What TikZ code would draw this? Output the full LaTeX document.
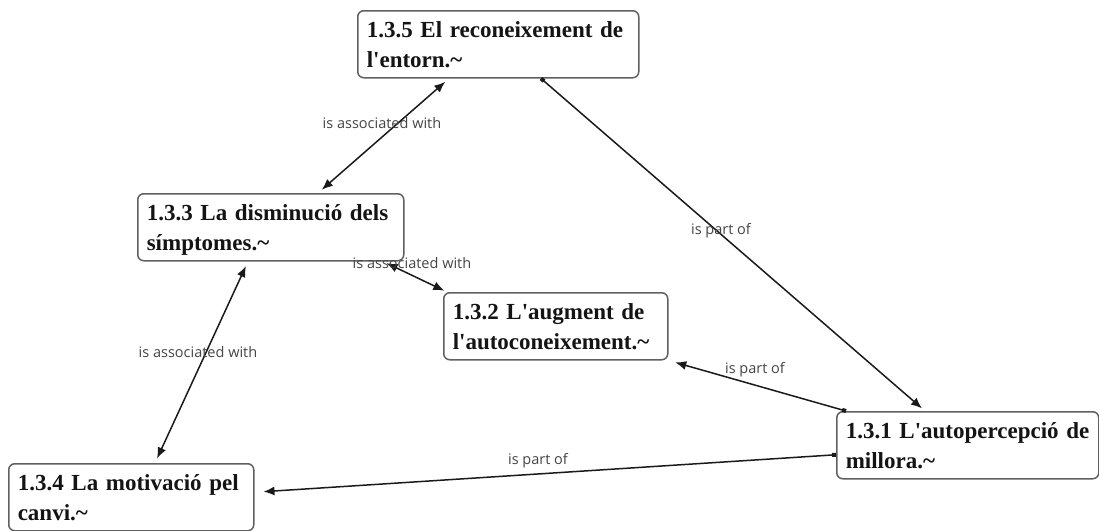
\documentclass[tikz,border=0pt]{standalone}
\usepackage{fontspec}
\setmainfont{Liberation Serif}
\newfontfamily\lblfont{Open Sans}
\usetikzlibrary{arrows.meta}
\definecolor{boxdraw}{HTML}{606060}
\definecolor{edgecol}{HTML}{1A1A1A}
\definecolor{lblcol}{HTML}{444444}
\definecolor{txtcol}{HTML}{141414}
\begin{document}
\begin{tikzpicture}[x=1pt,y=-1pt,
 concept/.style={draw=boxdraw, line width=1.5pt, rounded corners=6pt, fill=white, anchor=north west,
   inner xsep=9pt, inner ysep=0pt, text height=27pt, text depth=40pt, align=left,
   font=\fontsize{23}{30}\selectfont\bfseries, text=txtcol},
 lbl/.style={font=\lblfont\fontsize{14.5}{16}\selectfont, text=lblcol, inner sep=0pt},
 link/.style={draw=edgecol, line width=1.5pt},
 bi/.style={link, {Latex[length=11pt,width=9pt]}-{Latex[length=11pt,width=9pt]}},
 uni/.style={link, {Square[length=4pt,width=4pt]}-{Latex[length=11pt,width=9pt]}}
]
\useasboundingbox (0,0) rectangle (1099,530);

% concepts
\node[concept, text width=263pt] (n135) at (357,10) {\mbox{1.3.5 El reconeixement de}\\l\textquotesingle entorn.\textasciitilde};
\node[concept, text width=248pt] (n133) at (137,193) {\mbox{1.3.3 La disminució dels}\\símptomes.\textasciitilde};
\node[concept, text width=206pt] (n132) at (443,292) {\mbox{1.3.2 L\textquotesingle augment de}\\l\textquotesingle autoconeixement.\textasciitilde};
\node[concept, text width=244pt] (n131) at (836,411) {\mbox{1.3.1 L\textquotesingle autopercepció de}\\millora.\textasciitilde};
\node[concept, text width=227pt] (n134) at (8,463) {\mbox{1.3.4 La motivació pel}\\canvi.\textasciitilde};

% connectors
\draw[bi, shorten <=5pt, shorten >=5pt] ([xshift=181pt]n133.north west) -- ([xshift=92pt]n135.south west);
\draw[uni, shorten >=4pt] ([xshift=184pt]n135.south west) -- ([xshift=89pt]n131.north west);
\draw[bi, shorten <=4pt, shorten >=3pt] ([xshift=246pt]n133.south west) -- ([xshift=4pt]n132.north west);
\draw[uni, shorten >=7pt] ([xshift=10pt]n131.north west) -- (n132.south east);
\draw[bi, shorten <=5pt, shorten >=5pt] ([xshift=111pt]n133.south west) -- ([xshift=147pt]n134.north west);
\draw[uni, shorten >=9pt] ([yshift=-9.5pt]n131.west) -- ([yshift=5pt]n134.east);

% labels
\node[lbl] (l1) at (382,123) {is associated with};
\node[lbl] (l2) at (721,231) {is part of};
\node[lbl] (l3) at (412,263) {is associated with};
\node[lbl] (l4) at (755,370) {is part of};
\node[lbl] (l5) at (198,352) {is associated with};
\node[lbl] (l6) at (538,461) {is part of};
\end{tikzpicture}
\end{document}
